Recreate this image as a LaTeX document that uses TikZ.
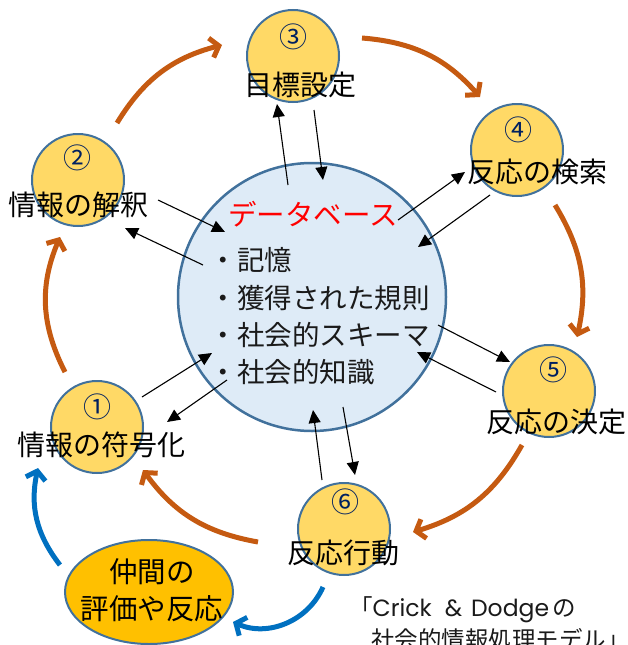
\documentclass[tikz,border=0pt]{standalone}
\usepackage{fontspec}
\setmainfont{Noto Sans CJK JP}
\newfontfamily\latinf{Poppins}
\usetikzlibrary{arrows.meta,shapes.geometric}
\definecolor{orangec}{HTML}{C55A11}
\definecolor{bluec}{HTML}{0070C0}
\definecolor{yellowc}{HTML}{FFD966}
\definecolor{bordc}{HTML}{41719C}
\definecolor{dbfill}{HTML}{DEEBF7}
\definecolor{ellfill}{HTML}{FFC000}
\definecolor{navyc}{HTML}{002060}
\definecolor{textc}{HTML}{1A1A1A}
\begin{document}
\begin{tikzpicture}[x=1pt,y=-1pt,
  smallc/.style={circle, draw=bordc, line width=2pt, fill=yellowc, minimum size=92pt, inner sep=0pt},
  numtxt/.style={font=\fontsize{28}{28}\selectfont, text=navyc, inner sep=0pt, text height=24.6pt, text depth=3.4pt},
  lbl/.style={font=\fontsize{28}{28}\selectfont, text=black, inner sep=0pt, text height=24.6pt, text depth=3.4pt},
  item/.style={font=\fontsize{27.5}{27.5}\selectfont, text=textc, inner sep=0pt, text height=24.2pt, text depth=3.3pt, anchor=west},
  captxt/.style={font=\fontsize{23.5}{23.5}\selectfont, text=textc, inner sep=0pt, anchor=west, text height=20.7pt, text depth=2.8pt},
  conn/.style={-{Triangle[length=13pt,width=12pt]}, line width=1.1pt, black},
  oarr/.style={draw=orangec, line width=5pt, -{Straight Barb[length=8pt,width=20pt]}},
  barr/.style={draw=bluec, line width=5pt, -{Straight Barb[length=8pt,width=20pt]}}
]
\useasboundingbox (0,0) rectangle (627,645);

% database circle
\node[circle, draw=bordc, line width=2.5pt, fill=dbfill, minimum size=268pt, inner sep=0pt] (db) at (312,297) {};

% small circles
\node[smallc] (c1) at (97,427) {};
\node[smallc] (c2) at (78,180) {};
\node[smallc] (c3) at (293,56) {};
\node[smallc] (c4) at (517,150) {};
\node[smallc] (c5) at (549,391) {};
\node[smallc] (c6) at (344,529) {};

% numbers
\node[numtxt] (n1) at (97,407) {①};
\node[numtxt] (n2) at (77,158) {②};
\node[numtxt] (n3) at (293,37) {③};
\node[numtxt] (n4) at (518,130) {④};
\node[numtxt] (n5) at (553,370) {⑤};
\node[numtxt] (n6) at (345,502) {⑥};

% labels
\node[lbl] (l1) at (101,445) {情報の符号化};
\node[lbl] (l2) at (79,205) {情報の解釈};
\node[lbl] (l3) at (300,85) {目標設定};
\node[lbl] (l4) at (537,172) {反応の検索};
\node[lbl] (l5) at (556,422) {反応の決定};
\node[lbl] (l6) at (343,553) {反応行動};

% database text
\node[font=\fontsize{28.5}{28.5}\selectfont, text=red, inner sep=0pt, text height=25pt, text depth=3.5pt] (dbt) at (313,215) {データベース};
\node[item] (i1) at (237,260) {記憶};
\node[item] (i2) at (237,298) {獲得された規則};
\node[item] (i3) at (237,335) {社会的スキーマ};
\node[item] (i4) at (237,372) {社会的知識};
\foreach \yy/\nm in {260/d1,298/d2,335/d3,372/d4}{
  \node[item, anchor=center] (\nm) at (223,\yy) {・};
}

% ellipse
\node[ellipse, draw=bordc, line width=2pt, fill=ellfill, minimum width=168pt, minimum height=104pt, inner sep=0pt] (ev) at (149,592) {};
\node[font=\fontsize{28.5}{37}\selectfont, align=center, inner sep=0pt] (evt) at (152,590) {仲間の\\評価や反応};

% caption
\node[captxt] (cap1) at (349,608) {「{\latinf Crick\hspace{13pt}\&\hspace{9pt}Dodge}\hspace{3pt}の};
\node[captxt] (cap2) at (371,640) {社会的情報処理モデル」};

% black connector end points
\coordinate (a1) at (158,200); \coordinate (a2) at (225,232);
\coordinate (b1) at (203,265); \coordinate (b2) at (125,228);
\coordinate (e1) at (288,185); \coordinate (e2) at (277,104);
\coordinate (f1) at (314,110); \coordinate (f2) at (323,180);
\coordinate (g1) at (398,220); \coordinate (g2) at (465,172);
\coordinate (h1) at (490,195); \coordinate (h2) at (418,247);
\coordinate (k1) at (438,325); \coordinate (k2) at (510,362);
\coordinate (m1) at (496,392); \coordinate (m2) at (417,352);
\coordinate (p1) at (343,407); \coordinate (p2) at (355,475);
\coordinate (q1) at (322,480); \coordinate (q2) at (313,410);
\coordinate (r1) at (142,397); \coordinate (r2) at (212,353);
\coordinate (s1) at (227,380); \coordinate (s2) at (167,422);
\foreach \u/\v in {a1/a2,b1/b2,e1/e2,f1/f2,g1/g2,h1/h2,k1/k2,m1/m2,p1/p2,q1/q2,r1/r2,s1/s2}
  \draw[conn] (\u) -- (\v);

% orange cycle
\coordinate (o1s) at (117,123); \coordinate (o1e) at (222,45);
\coordinate (o2s) at (362,38);  \coordinate (o2e) at (480,97);
\coordinate (o3s) at (555,205); \coordinate (o3e) at (577,337);
\coordinate (o4s) at (522,445); \coordinate (o4e) at (413,532);
\coordinate (o5s) at (258,542); \coordinate (o5e) at (143,470);
\coordinate (o6s) at (65,372);  \coordinate (o6e) at (60,237);
\draw[oarr] (o1s) to[bend left=22] (o1e);
\draw[oarr] (o2s) to[bend left=22] (o2e);
\draw[oarr] (o3s) to[bend left=22] (o3e);
\draw[oarr] (o4s) to[bend left=22] (o4e);
\draw[oarr] (o5s) to[bend left=22] (o5e);
\draw[oarr] (o6s) to[bend left=25] (o6e);

% blue arrows
\coordinate (bl1s) at (323,587); \coordinate (bl1e) at (233,622);
\coordinate (bl2s) at (60,565);  \coordinate (bl2e) at (38,468);
\draw[barr] (bl1s) to[bend left=45] (bl1e);
\draw[barr] (bl2s) to[bend left=25] (bl2e);
\end{tikzpicture}
\end{document}
